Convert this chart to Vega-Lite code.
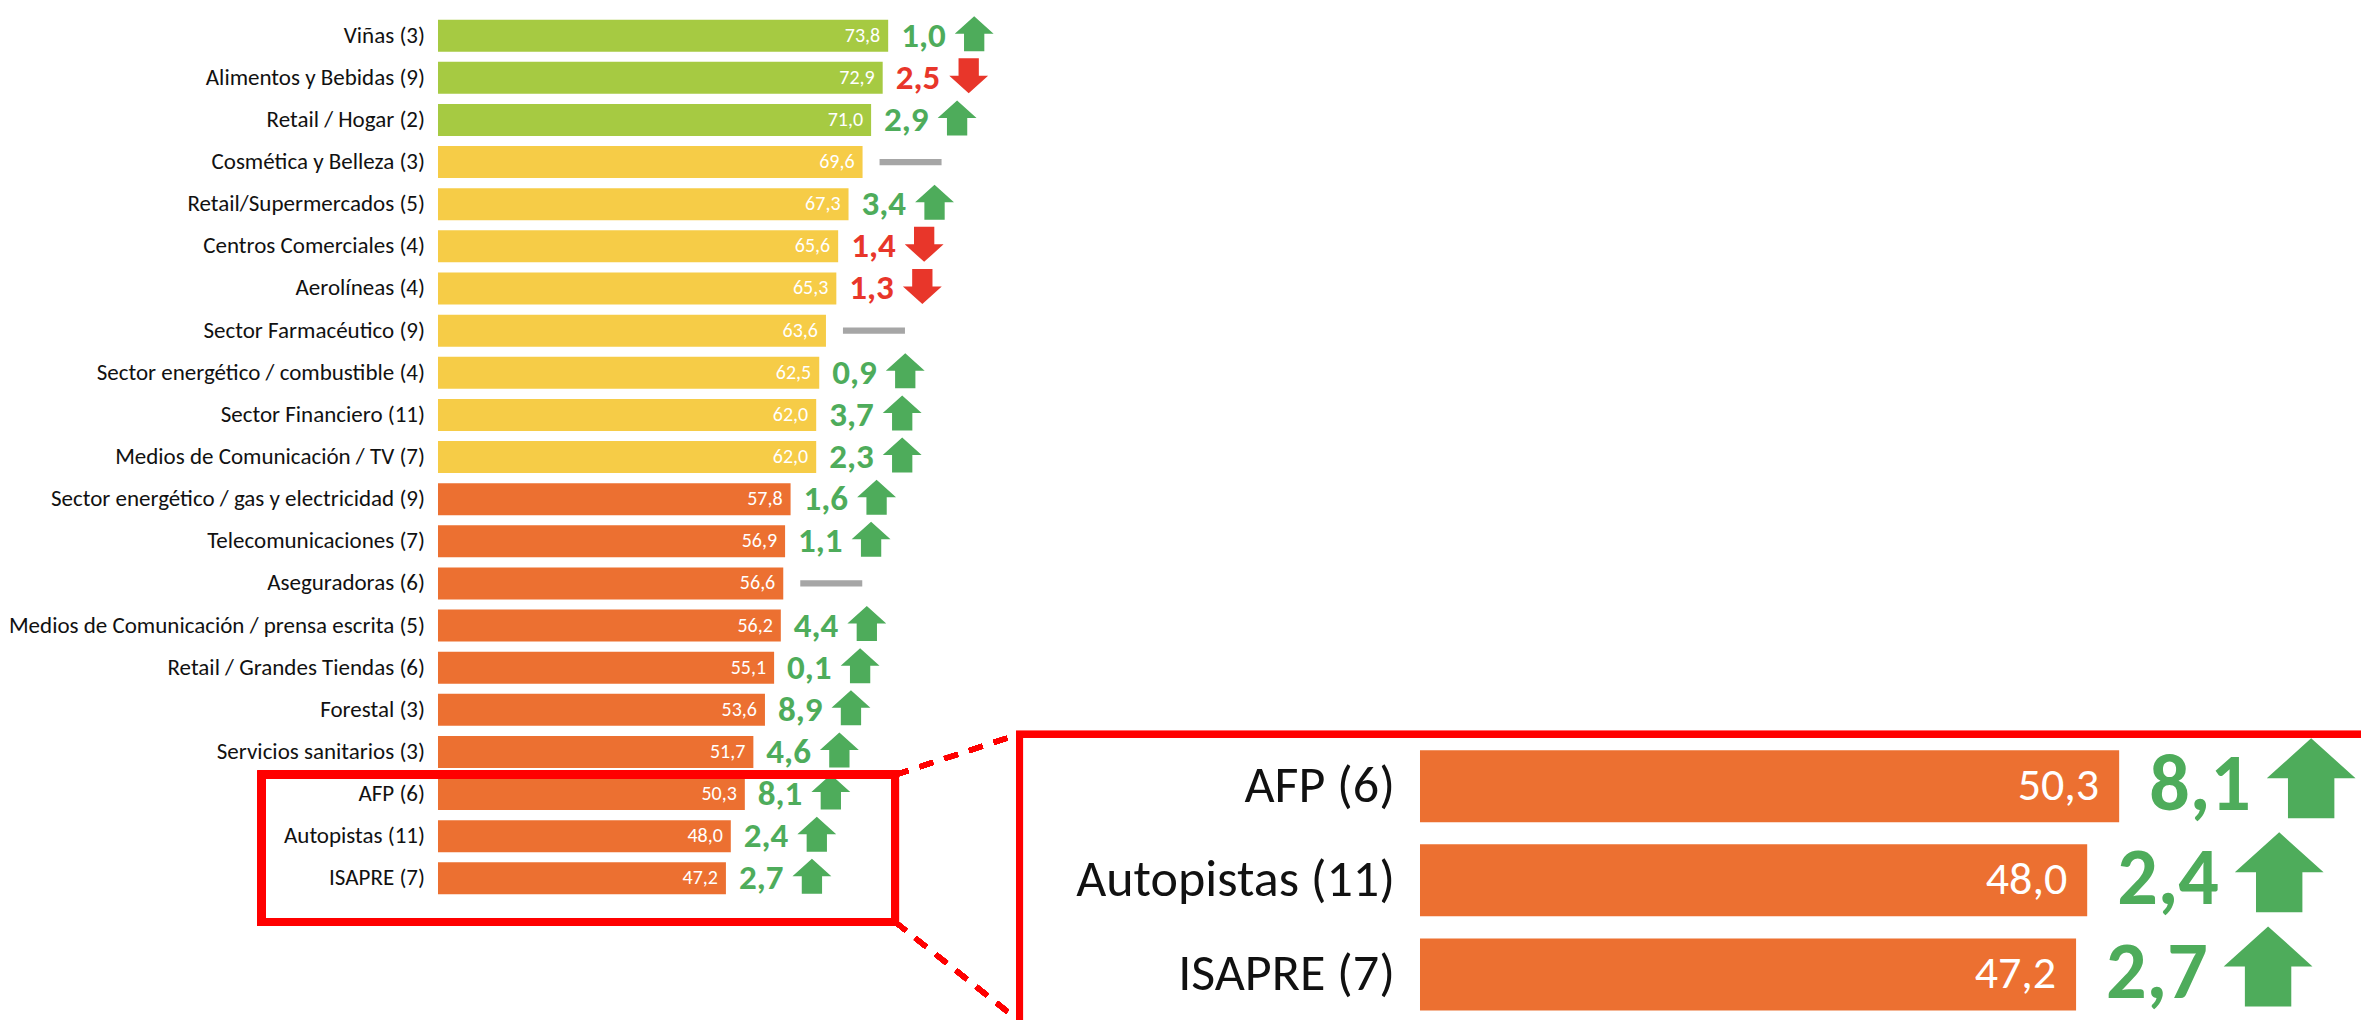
{
  "$schema": "https://vega.github.io/schema/vega-lite/v6.json",
  "width": 2361,
  "height": 1020,
  "padding": 0,
  "autosize": {"type": "none"},
  "background": "white",
  "config": {
    "view": {"stroke": null},
    "font": "Carlito, Liberation Sans Narrow, Open Sans, sans-serif",
    "locale": {"number": {"decimal": ",", "thousands": ".", "grouping": [3], "currency": ["", ""]}}
  },
  "datasets": {
    "sectores": [
      {"rank": 1, "sector": "Viñas (3)", "valor": 73.8, "cambio": 1.0, "tendencia": "sube", "nivel": "alto"},
      {"rank": 2, "sector": "Alimentos y Bebidas (9)", "valor": 72.9, "cambio": 2.5, "tendencia": "baja", "nivel": "alto"},
      {"rank": 3, "sector": "Retail / Hogar (2)", "valor": 71.0, "cambio": 2.9, "tendencia": "sube", "nivel": "alto"},
      {"rank": 4, "sector": "Cosmética y Belleza (3)", "valor": 69.6, "cambio": null, "tendencia": "igual", "nivel": "medio"},
      {"rank": 5, "sector": "Retail/Supermercados (5)", "valor": 67.3, "cambio": 3.4, "tendencia": "sube", "nivel": "medio"},
      {"rank": 6, "sector": "Centros Comerciales (4)", "valor": 65.6, "cambio": 1.4, "tendencia": "baja", "nivel": "medio"},
      {"rank": 7, "sector": "Aerolíneas (4)", "valor": 65.3, "cambio": 1.3, "tendencia": "baja", "nivel": "medio"},
      {"rank": 8, "sector": "Sector Farmacéutico (9)", "valor": 63.6, "cambio": null, "tendencia": "igual", "nivel": "medio"},
      {"rank": 9, "sector": "Sector energético / combustible (4)", "valor": 62.5, "cambio": 0.9, "tendencia": "sube", "nivel": "medio"},
      {"rank": 10, "sector": "Sector Financiero (11)", "valor": 62.0, "cambio": 3.7, "tendencia": "sube", "nivel": "medio"},
      {"rank": 11, "sector": "Medios de Comunicación / TV (7)", "valor": 62.0, "cambio": 2.3, "tendencia": "sube", "nivel": "medio"},
      {"rank": 12, "sector": "Sector energético / gas y electricidad (9)", "valor": 57.8, "cambio": 1.6, "tendencia": "sube", "nivel": "bajo"},
      {"rank": 13, "sector": "Telecomunicaciones (7)", "valor": 56.9, "cambio": 1.1, "tendencia": "sube", "nivel": "bajo"},
      {"rank": 14, "sector": "Aseguradoras (6)", "valor": 56.6, "cambio": null, "tendencia": "igual", "nivel": "bajo"},
      {"rank": 15, "sector": "Medios de Comunicación / prensa escrita (5)", "valor": 56.2, "cambio": 4.4, "tendencia": "sube", "nivel": "bajo"},
      {"rank": 16, "sector": "Retail / Grandes Tiendas (6)", "valor": 55.1, "cambio": 0.1, "tendencia": "sube", "nivel": "bajo"},
      {"rank": 17, "sector": "Forestal (3)", "valor": 53.6, "cambio": 8.9, "tendencia": "sube", "nivel": "bajo"},
      {"rank": 18, "sector": "Servicios sanitarios (3)", "valor": 51.7, "cambio": 4.6, "tendencia": "sube", "nivel": "bajo"},
      {"rank": 19, "sector": "AFP (6)", "valor": 50.3, "cambio": 8.1, "tendencia": "sube", "nivel": "bajo"},
      {"rank": 20, "sector": "Autopistas (11)", "valor": 48.0, "cambio": 2.4, "tendencia": "sube", "nivel": "bajo"},
      {"rank": 21, "sector": "ISAPRE (7)", "valor": 47.2, "cambio": 2.7, "tendencia": "sube", "nivel": "bajo"}
    ]
  },
  "resolve": {"scale": {"x": "independent", "y": "independent"}},
  "layer": [
    {
      "data": {"name": "sectores"},
      "encoding": {
        "x": {"field": "valor", "type": "quantitative", "axis": null, "scale": {"domain": [-71.803, 315.246], "nice": false, "zero": false}},
        "y": {"field": "rank", "type": "quantitative", "axis": null, "scale": {"domain": [0.27145, 24.2433], "nice": false, "zero": false, "reverse": true}}
      },
      "layer": [
        {
          "mark": {"type": "bar", "height": 32},
          "encoding": {
            "x": {"datum": 0},
            "x2": {"field": "valor"},
            "color": {"field": "nivel", "type": "nominal", "legend": null,
              "scale": {"domain": ["alto", "medio", "bajo", "sube", "baja", "igual"], "range": ["#A6CA42", "#F6CC47", "#EC7031", "#4EAC5B", "#E8362A", "#A6A6A6"]}}
          }
        },
        {
          "mark": {"type": "text", "align": "right", "baseline": "middle", "dx": -8, "fontSize": 20, "color": "white"},
          "encoding": {"text": {"field": "valor", "type": "quantitative", "format": ".1f"}}
        },
        {
          "mark": {"type": "text", "align": "right", "baseline": "middle", "dx": -13, "fontSize": 23, "color": "#111111"},
          "encoding": {"x": {"datum": 0}, "text": {"field": "sector"}}
        },
        {
          "transform": [{"filter": "datum.tendencia != 'igual'"}],
          "mark": {"type": "text", "align": "left", "baseline": "middle", "dx": 13, "fontSize": 35, "fontWeight": "bold"},
          "encoding": {
            "text": {"field": "cambio", "type": "quantitative", "format": ".1f"},
            "color": {"field": "tendencia", "type": "nominal", "legend": null,
              "scale": {"domain": ["alto", "medio", "bajo", "sube", "baja", "igual"], "range": ["#A6CA42", "#F6CC47", "#EC7031", "#4EAC5B", "#E8362A", "#A6A6A6"]}}
          }
        },
        {
          "transform": [{"filter": "datum.tendencia != 'igual'"}],
          "mark": {"type": "point", "filled": true, "opacity": 1, "size": 1225, "xOffset": 86, "yOffset": -2},
          "encoding": {
            "shape": {"field": "tendencia", "type": "nominal", "legend": null,
              "scale": {"domain": ["sube", "baja"], "range": ["M0,-1 L1.11,0 L0.58,0 L0.58,1 L-0.58,1 L-0.58,0 L-1.11,0 Z", "M0,1 L1.11,0 L0.58,0 L0.58,-1 L-0.58,-1 L-0.58,0 L-1.11,0 Z"]}},
            "color": {"field": "tendencia", "type": "nominal", "legend": null,
              "scale": {"domain": ["alto", "medio", "bajo", "sube", "baja", "igual"], "range": ["#A6CA42", "#F6CC47", "#EC7031", "#4EAC5B", "#E8362A", "#A6A6A6"]}}
          }
        },
        {
          "transform": [{"filter": "datum.tendencia == 'igual'"}],
          "mark": {"type": "point", "filled": true, "opacity": 1, "size": 3844, "xOffset": 48, "color": "#A6A6A6",
            "shape": "M-1,-0.1 L1,-0.1 L1,0.1 L-1,0.1 Z"}
        },
        {
          "mark": {"type": "rect", "fill": null, "stroke": "#FF0000", "strokeWidth": 8, "clip": true},
          "encoding": {
            "x": {"datum": -28.93}, "x2": {"datum": 74.92},
            "y": {"datum": 18.544}, "y2": {"datum": 22.034}
          }
        },
        {
          "mark": {"type": "rule", "stroke": "#FF0000", "strokeWidth": 5, "strokeDash": [14, 12], "clip": true},
          "encoding": {
            "x": {"datum": 74.92}, "x2": {"datum": 95.41},
            "y": {"datum": 18.544}, "y2": {"datum": 17.57}
          }
        },
        {
          "mark": {"type": "rule", "stroke": "#FF0000", "strokeWidth": 5, "strokeDash": [14, 12], "clip": true},
          "encoding": {
            "x": {"datum": 74.92}, "x2": {"datum": 95.41},
            "y": {"datum": 22.034}, "y2": {"datum": 24.4}
          }
        }
      ]
    },
    {
      "data": {"name": "sectores"},
      "transform": [{"filter": "datum.rank >= 19"}],
      "encoding": {
        "x": {"field": "valor", "type": "quantitative", "axis": null, "scale": {"domain": [-102.158, 67.698], "nice": false, "zero": false}},
        "y": {"field": "rank", "type": "quantitative", "axis": null, "scale": {"domain": [10.6947, 21.4316], "nice": false, "zero": false, "reverse": true}}
      },
      "layer": [
        {
          "mark": {"type": "bar", "height": 72},
          "encoding": {
            "x": {"datum": 0},
            "x2": {"field": "valor"},
            "color": {"field": "nivel", "type": "nominal", "legend": null,
              "scale": {"domain": ["alto", "medio", "bajo", "sube", "baja", "igual"], "range": ["#A6CA42", "#F6CC47", "#EC7031", "#4EAC5B", "#E8362A", "#A6A6A6"]}}
          }
        },
        {
          "mark": {"type": "text", "align": "right", "baseline": "middle", "dx": -20, "fontSize": 46, "color": "white"},
          "encoding": {"text": {"field": "valor", "type": "quantitative", "format": ".1f"}}
        },
        {
          "mark": {"type": "text", "align": "right", "baseline": "middle", "dx": -25, "fontSize": 52, "color": "#111111"},
          "encoding": {"x": {"datum": 0}, "text": {"field": "sector"}}
        },
        {
          "mark": {"type": "text", "align": "left", "baseline": "middle", "dx": 30, "fontSize": 80, "fontWeight": "bold"},
          "encoding": {
            "text": {"field": "cambio", "type": "quantitative", "format": ".1f"},
            "color": {"field": "tendencia", "type": "nominal", "legend": null,
              "scale": {"domain": ["alto", "medio", "bajo", "sube", "baja", "igual"], "range": ["#A6CA42", "#F6CC47", "#EC7031", "#4EAC5B", "#E8362A", "#A6A6A6"]}}
          }
        },
        {
          "mark": {"type": "point", "filled": true, "opacity": 1, "size": 6400, "xOffset": 192, "yOffset": -8,
            "shape": "M0,-1 L1.11,0 L0.58,0 L0.58,1 L-0.58,1 L-0.58,0 L-1.11,0 Z"},
          "encoding": {
            "color": {"field": "tendencia", "type": "nominal", "legend": null,
              "scale": {"domain": ["alto", "medio", "bajo", "sube", "baja", "igual"], "range": ["#A6CA42", "#F6CC47", "#EC7031", "#4EAC5B", "#E8362A", "#A6A6A6"]}}
          }
        },
        {
          "mark": {"type": "rect", "fill": null, "stroke": "#FF0000", "strokeWidth": 7, "clip": true},
          "encoding": {
            "x": {"datum": -28.81}, "x2": {"datum": 90},
            "y": {"datum": 18.447}, "y2": {"datum": 23}
          }
        }
      ]
    }
  ]
}
